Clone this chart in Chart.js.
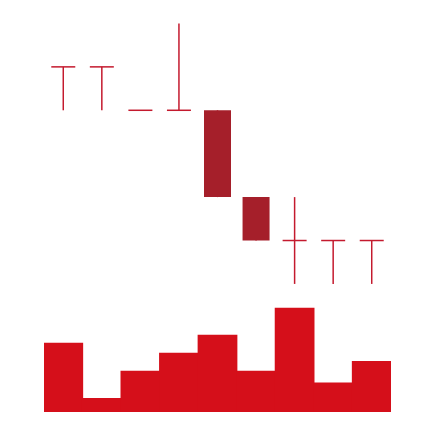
<!DOCTYPE html>
<html>
<head>
<meta charset="utf-8">
<script src="https://cdn.jsdelivr.net/npm/chart.js@4/dist/chart.umd.min.js"></script>
<style>
  html, body { margin: 0; padding: 0; background: #ffffff; }
  #wrap { width: 434px; height: 422px; }
</style>
</head>
<body>
<div id="wrap"><canvas id="c" width="434" height="422"></canvas></div>
<script>
// ---- data ----
const categories = ['D1', 'D2', 'D3', 'D4', 'D5', 'D6', 'D7', 'D8', 'D9'];
const openPrices  = [15, 15, 14, 14, 14, 12, 11, 11, 11];
const highPrices  = [15, 15, 14, 16, 14, 12, 12, 11, 11];
const lowPrices   = [14, 14, 14, 14, 12, 11, 10, 10, 10];
const closePrices = [15, 15, 14, 14, 12, 11, 11, 11, 11];
const volumes     = [2520, 490, 1490, 2150, 2810, 1490, 3800, 1060, 1850];

// derived series for the library
const bodies = categories.map((_, i) =>
  openPrices[i] !== closePrices[i] ? [openPrices[i], closePrices[i]] : null);
const wicks = categories.map((_, i) =>
  lowPrices[i] !== highPrices[i] ? [lowPrices[i], highPrices[i]] : null);
const dojis = categories.map((_, i) =>
  openPrices[i] === closePrices[i] ? closePrices[i] : null);

const lineRed = '#c41a2e';
const bodyRed = '#a51f2a';
const volRed  = '#d50f1a';

new Chart(document.getElementById('c'), {
  data: {
    labels: categories,
    datasets: [
      {
        type: 'bar',
        data: bodies,
        yAxisID: 'y',
        grouped: false,
        barThickness: 27,
        backgroundColor: bodyRed,
        borderWidth: 0,
        inflateAmount: 0,
        order: 0
      },
      {
        type: 'line',
        data: dojis,
        yAxisID: 'y',
        showLine: false,
        pointStyle: 'line',
        pointRadius: 12,
        pointHoverRadius: 12,
        pointBorderWidth: 1.5,
        pointBorderColor: lineRed,
        borderColor: lineRed,
        clip: false,
        order: 1
      },
      {
        type: 'bar',
        data: wicks,
        yAxisID: 'y',
        grouped: false,
        barThickness: 1.5,
        backgroundColor: lineRed,
        borderWidth: 0,
        inflateAmount: 0,
        order: 2
      },
      {
        type: 'bar',
        data: volumes,
        yAxisID: 'y2',
        grouped: false,
        barPercentage: 1,
        categoryPercentage: 1,
        backgroundColor: volRed,
        borderWidth: 0,
        inflateAmount: 0.6,
        order: 3
      }
    ]
  },
  options: {
    responsive: false,
    animation: false,
    events: [],
    layout: { autoPadding: false, padding: { left: 44, right: 43, top: 10, bottom: 10 } },
    plugins: { legend: { display: false }, tooltip: { enabled: false } },
    scales: {
      x: { type: 'category', display: false, offset: true, grid: { display: false } },
      y: { display: false, min: 7.05, max: 16.31 },
      y2: { display: false, min: 0, max: 14730 }
    }
  }
});
</script>
</body>
</html>
